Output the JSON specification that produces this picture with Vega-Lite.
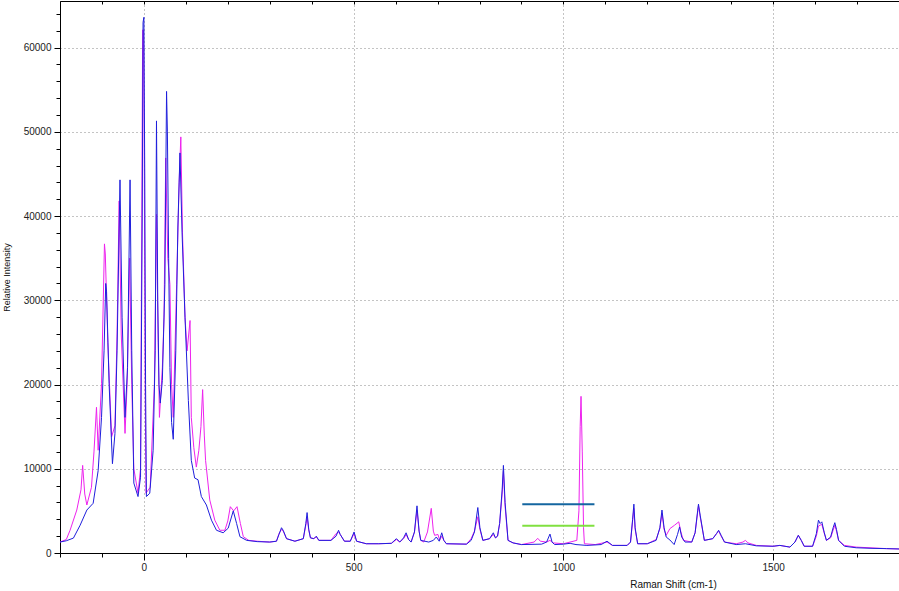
{
  "$schema": "https://vega.github.io/schema/vega-lite/v6.json",
  "width": 839,
  "height": 552,
  "autosize": "none",
  "padding": {"left": 60, "top": 1, "right": 0, "bottom": 38},
  "config": {
    "font": "Liberation Sans",
    "view": {"stroke": null},
    "axis": {"labelFont": "Liberation Sans", "titleFont": "Liberation Sans"}
  },
  "datasets": {
    "spec": [
      {"s":"m","x":-200,"y":1300},{"s":"m","x":-185,"y":1600},{"s":"m","x":-176,"y":2700},{"s":"m","x":-160,"y":5100},{"s":"m","x":-150,"y":7500},{"s":"m","x":-146,"y":10400},{"s":"m","x":-141,"y":7000},{"s":"m","x":-136,"y":5700},{"s":"m","x":-125,"y":7800},{"s":"m","x":-119,"y":12000},{"s":"m","x":-113,"y":17300},{"s":"m","x":-109,"y":12200},{"s":"m","x":-101,"y":20100},{"s":"m","x":-94,"y":36700},{"s":"m","x":-92,"y":35500},{"s":"m","x":-86,"y":25000},{"s":"m","x":-77,"y":13800},{"s":"m","x":-69,"y":15100},{"s":"m","x":-64,"y":26000},{"s":"m","x":-59,"y":41800},{"s":"m","x":-54,"y":26000},{"s":"m","x":-45,"y":14200},{"s":"m","x":-40,"y":20000},{"s":"m","x":-34,"y":35000},{"s":"m","x":-29,"y":20000},{"s":"m","x":-24,"y":10000},{"s":"m","x":-14,"y":7100},{"s":"m","x":-8,"y":10000},{"s":"m","x":-5,"y":40000},{"s":"m","x":-3,"y":62100},{"s":"m","x":-1,"y":62100},{"s":"m","x":1,"y":45000},{"s":"m","x":3,"y":20000},{"s":"m","x":5,"y":7100},{"s":"m","x":15,"y":7800},{"s":"m","x":25,"y":20000},{"s":"m","x":30,"y":40200},{"s":"m","x":34,"y":25000},{"s":"m","x":37,"y":16100},{"s":"m","x":44,"y":22000},{"s":"m","x":48,"y":28000},{"s":"m","x":52,"y":46900},{"s":"m","x":57,"y":35000},{"s":"m","x":62,"y":31900},{"s":"m","x":66,"y":20000},{"s":"m","x":70,"y":16100},{"s":"m","x":78,"y":31900},{"s":"m","x":84,"y":44000},{"s":"m","x":88,"y":49400},{"s":"m","x":92,"y":38000},{"s":"m","x":98,"y":28000},{"s":"m","x":103,"y":24000},{"s":"m","x":110,"y":27600},{"s":"m","x":113,"y":16100},{"s":"m","x":119,"y":12500},{"s":"m","x":125,"y":10200},{"s":"m","x":131,"y":12200},{"s":"m","x":136,"y":15000},{"s":"m","x":140,"y":19400},{"s":"m","x":144,"y":14000},{"s":"m","x":147,"y":11000},{"s":"m","x":157,"y":6300},{"s":"m","x":169,"y":3900},{"s":"m","x":181,"y":2700},{"s":"m","x":193,"y":2700},{"s":"m","x":200,"y":3800},{"s":"m","x":206,"y":5500},{"s":"m","x":214,"y":5000},{"s":"m","x":222,"y":5500},{"s":"m","x":230,"y":3500},{"s":"m","x":237,"y":1930},{"s":"m","x":250,"y":1500},{"s":"m","x":270,"y":1400},{"s":"m","x":300,"y":1300},{"s":"m","x":316,"y":1400},{"s":"m","x":322,"y":2300},{"s":"m","x":328,"y":2800},{"s":"m","x":332,"y":2600},{"s":"m","x":340,"y":1700},{"s":"m","x":360,"y":1400},{"s":"m","x":380,"y":1700},{"s":"m","x":386,"y":3300},{"s":"m","x":389,"y":4300},{"s":"m","x":393,"y":2700},{"s":"m","x":397,"y":1800},{"s":"m","x":405,"y":1700},{"s":"m","x":411,"y":1900},{"s":"m","x":417,"y":1500},{"s":"m","x":446,"y":1500},{"s":"m","x":458,"y":2300},{"s":"m","x":464,"y":2500},{"s":"m","x":468,"y":2200},{"s":"m","x":478,"y":1400},{"s":"m","x":492,"y":1400},{"s":"m","x":501,"y":2300},{"s":"m","x":507,"y":1400},{"s":"m","x":530,"y":1100},{"s":"m","x":560,"y":1100},{"s":"m","x":590,"y":1150},{"s":"m","x":602,"y":1600},{"s":"m","x":610,"y":1300},{"s":"m","x":619,"y":1700},{"s":"m","x":625,"y":2200},{"s":"m","x":631,"y":1600},{"s":"m","x":637,"y":1300},{"s":"m","x":645,"y":2500},{"s":"m","x":651,"y":5100},{"s":"m","x":656,"y":2600},{"s":"m","x":660,"y":1500},{"s":"m","x":667,"y":1300},{"s":"m","x":676,"y":2500},{"s":"m","x":685,"y":5300},{"s":"m","x":690,"y":2600},{"s":"m","x":693,"y":2100},{"s":"m","x":701,"y":2200},{"s":"m","x":705,"y":1500},{"s":"m","x":710,"y":2000},{"s":"m","x":715,"y":1500},{"s":"m","x":721,"y":1100},{"s":"m","x":769,"y":1050},{"s":"m","x":780,"y":1700},{"s":"m","x":788,"y":2600},{"s":"m","x":796,"y":4300},{"s":"m","x":801,"y":2800},{"s":"m","x":808,"y":1500},{"s":"m","x":824,"y":1700},{"s":"m","x":833,"y":2200},{"s":"m","x":838,"y":1800},{"s":"m","x":843,"y":2000},{"s":"m","x":848,"y":3500},{"s":"m","x":854,"y":7000},{"s":"m","x":857,"y":9700},{"s":"m","x":861,"y":5500},{"s":"m","x":868,"y":1500},{"s":"m","x":880,"y":1200},{"s":"m","x":900,"y":1000},{"s":"m","x":930,"y":1300},{"s":"m","x":939,"y":1740},{"s":"m","x":945,"y":1400},{"s":"m","x":960,"y":1300},{"s":"m","x":968,"y":1500},{"s":"m","x":975,"y":1200},{"s":"m","x":1000,"y":1100},{"s":"m","x":1032,"y":1500},{"s":"m","x":1037,"y":5000},{"s":"m","x":1040,"y":15000},{"s":"m","x":1042,"y":18600},{"s":"m","x":1045,"y":12000},{"s":"m","x":1048,"y":3000},{"s":"m","x":1050,"y":1100},{"s":"m","x":1076,"y":1000},{"s":"m","x":1104,"y":1300},{"s":"m","x":1117,"y":900},{"s":"m","x":1152,"y":900},{"s":"m","x":1160,"y":1300},{"s":"m","x":1165,"y":3800},{"s":"m","x":1168,"y":5300},{"s":"m","x":1171,"y":2800},{"s":"m","x":1177,"y":1100},{"s":"m","x":1200,"y":1100},{"s":"m","x":1221,"y":1600},{"s":"m","x":1230,"y":2900},{"s":"m","x":1235,"y":4700},{"s":"m","x":1240,"y":2800},{"s":"m","x":1245,"y":2100},{"s":"m","x":1254,"y":2900},{"s":"m","x":1265,"y":3300},{"s":"m","x":1275,"y":3700},{"s":"m","x":1280,"y":2500},{"s":"m","x":1286,"y":1500},{"s":"m","x":1306,"y":1300},{"s":"m","x":1314,"y":2400},{"s":"m","x":1320,"y":4800},{"s":"m","x":1322,"y":5600},{"s":"m","x":1326,"y":4300},{"s":"m","x":1336,"y":1500},{"s":"m","x":1356,"y":1700},{"s":"m","x":1365,"y":2300},{"s":"m","x":1370,"y":2600},{"s":"m","x":1376,"y":2000},{"s":"m","x":1384,"y":1300},{"s":"m","x":1412,"y":1100},{"s":"m","x":1428,"y":1300},{"s":"m","x":1434,"y":1500},{"s":"m","x":1440,"y":1200},{"s":"m","x":1460,"y":900},{"s":"m","x":1500,"y":800},{"s":"m","x":1516,"y":900},{"s":"m","x":1540,"y":700},{"s":"m","x":1552,"y":1300},{"s":"m","x":1560,"y":2100},{"s":"m","x":1567,"y":1500},{"s":"m","x":1574,"y":800},{"s":"m","x":1594,"y":800},{"s":"m","x":1603,"y":2000},{"s":"m","x":1608,"y":3200},{"s":"m","x":1612,"y":3300},{"s":"m","x":1616,"y":3400},{"s":"m","x":1622,"y":2300},{"s":"m","x":1627,"y":1500},{"s":"m","x":1637,"y":1800},{"s":"m","x":1643,"y":2700},{"s":"m","x":1647,"y":3300},{"s":"m","x":1651,"y":2600},{"s":"m","x":1656,"y":1500},{"s":"m","x":1670,"y":900},{"s":"m","x":1698,"y":700},{"s":"m","x":1738,"y":600},{"s":"m","x":1770,"y":520},{"s":"m","x":1800,"y":480},
      {"s":"b","x":-200,"y":1300},{"s":"b","x":-185,"y":1450},{"s":"b","x":-168,"y":1770},{"s":"b","x":-152,"y":3300},{"s":"b","x":-136,"y":5100},{"s":"b","x":-121,"y":5900},{"s":"b","x":-109,"y":9800},{"s":"b","x":-101,"y":16100},{"s":"b","x":-95,"y":24000},{"s":"b","x":-91,"y":32000},{"s":"b","x":-89,"y":31000},{"s":"b","x":-83,"y":20100},{"s":"b","x":-75,"y":10600},{"s":"b","x":-69,"y":14200},{"s":"b","x":-64,"y":24000},{"s":"b","x":-57,"y":44300},{"s":"b","x":-52,"y":28000},{"s":"b","x":-45,"y":16100},{"s":"b","x":-39,"y":22000},{"s":"b","x":-33,"y":44300},{"s":"b","x":-29,"y":24000},{"s":"b","x":-24,"y":8300},{"s":"b","x":-14,"y":6700},{"s":"b","x":-8,"y":9000},{"s":"b","x":-4,"y":40000},{"s":"b","x":-2,"y":63000},{"s":"b","x":0,"y":63600},{"s":"b","x":2,"y":45000},{"s":"b","x":4,"y":20000},{"s":"b","x":6,"y":6700},{"s":"b","x":14,"y":7100},{"s":"b","x":22,"y":12200},{"s":"b","x":27,"y":24000},{"s":"b","x":30,"y":51300},{"s":"b","x":33,"y":30000},{"s":"b","x":36,"y":20000},{"s":"b","x":39,"y":17800},{"s":"b","x":44,"y":20500},{"s":"b","x":50,"y":31900},{"s":"b","x":54,"y":54800},{"s":"b","x":56,"y":50000},{"s":"b","x":59,"y":35000},{"s":"b","x":62,"y":22000},{"s":"b","x":66,"y":15500},{"s":"b","x":70,"y":13500},{"s":"b","x":76,"y":24000},{"s":"b","x":81,"y":38700},{"s":"b","x":86,"y":47500},{"s":"b","x":91,"y":38000},{"s":"b","x":98,"y":28000},{"s":"b","x":106,"y":18100},{"s":"b","x":113,"y":11000},{"s":"b","x":121,"y":8900},{"s":"b","x":129,"y":8700},{"s":"b","x":137,"y":6700},{"s":"b","x":149,"y":5700},{"s":"b","x":161,"y":3900},{"s":"b","x":173,"y":2700},{"s":"b","x":189,"y":2400},{"s":"b","x":201,"y":2950},{"s":"b","x":213,"y":5000},{"s":"b","x":221,"y":3500},{"s":"b","x":229,"y":1930},{"s":"b","x":245,"y":1500},{"s":"b","x":270,"y":1350},{"s":"b","x":300,"y":1300},{"s":"b","x":316,"y":1400},{"s":"b","x":322,"y":2200},{"s":"b","x":328,"y":3000},{"s":"b","x":332,"y":2700},{"s":"b","x":340,"y":1700},{"s":"b","x":360,"y":1400},{"s":"b","x":380,"y":1700},{"s":"b","x":386,"y":3500},{"s":"b","x":389,"y":4800},{"s":"b","x":393,"y":2800},{"s":"b","x":397,"y":1800},{"s":"b","x":405,"y":1700},{"s":"b","x":411,"y":2000},{"s":"b","x":417,"y":1500},{"s":"b","x":446,"y":1500},{"s":"b","x":458,"y":2000},{"s":"b","x":464,"y":2700},{"s":"b","x":468,"y":2200},{"s":"b","x":478,"y":1400},{"s":"b","x":492,"y":1400},{"s":"b","x":501,"y":2500},{"s":"b","x":507,"y":1400},{"s":"b","x":530,"y":1100},{"s":"b","x":560,"y":1100},{"s":"b","x":590,"y":1150},{"s":"b","x":602,"y":1700},{"s":"b","x":610,"y":1300},{"s":"b","x":619,"y":1800},{"s":"b","x":625,"y":2400},{"s":"b","x":631,"y":1600},{"s":"b","x":637,"y":1300},{"s":"b","x":645,"y":2500},{"s":"b","x":651,"y":5600},{"s":"b","x":656,"y":2600},{"s":"b","x":660,"y":1500},{"s":"b","x":679,"y":1300},{"s":"b","x":690,"y":1500},{"s":"b","x":697,"y":1900},{"s":"b","x":704,"y":1400},{"s":"b","x":710,"y":2400},{"s":"b","x":715,"y":1500},{"s":"b","x":721,"y":1100},{"s":"b","x":769,"y":1050},{"s":"b","x":780,"y":1500},{"s":"b","x":788,"y":2500},{"s":"b","x":796,"y":5400},{"s":"b","x":801,"y":3000},{"s":"b","x":808,"y":1500},{"s":"b","x":824,"y":1700},{"s":"b","x":833,"y":2400},{"s":"b","x":838,"y":1800},{"s":"b","x":843,"y":2000},{"s":"b","x":848,"y":3500},{"s":"b","x":854,"y":7500},{"s":"b","x":857,"y":10400},{"s":"b","x":861,"y":6000},{"s":"b","x":868,"y":1500},{"s":"b","x":880,"y":1200},{"s":"b","x":900,"y":1000},{"s":"b","x":948,"y":1050},{"s":"b","x":960,"y":1300},{"s":"b","x":968,"y":2250},{"s":"b","x":973,"y":1300},{"s":"b","x":979,"y":1000},{"s":"b","x":1000,"y":1050},{"s":"b","x":1016,"y":1150},{"s":"b","x":1030,"y":1000},{"s":"b","x":1056,"y":900},{"s":"b","x":1090,"y":1000},{"s":"b","x":1104,"y":1400},{"s":"b","x":1117,"y":900},{"s":"b","x":1152,"y":900},{"s":"b","x":1160,"y":1300},{"s":"b","x":1165,"y":4000},{"s":"b","x":1168,"y":5800},{"s":"b","x":1171,"y":3000},{"s":"b","x":1177,"y":1100},{"s":"b","x":1200,"y":1100},{"s":"b","x":1221,"y":1500},{"s":"b","x":1230,"y":3000},{"s":"b","x":1235,"y":5100},{"s":"b","x":1240,"y":3000},{"s":"b","x":1245,"y":1900},{"s":"b","x":1254,"y":1540},{"s":"b","x":1264,"y":1000},{"s":"b","x":1272,"y":2200},{"s":"b","x":1277,"y":3100},{"s":"b","x":1282,"y":1900},{"s":"b","x":1290,"y":1300},{"s":"b","x":1306,"y":1300},{"s":"b","x":1314,"y":2400},{"s":"b","x":1320,"y":5000},{"s":"b","x":1322,"y":5800},{"s":"b","x":1326,"y":4500},{"s":"b","x":1336,"y":1500},{"s":"b","x":1356,"y":1700},{"s":"b","x":1365,"y":2300},{"s":"b","x":1370,"y":2700},{"s":"b","x":1376,"y":2100},{"s":"b","x":1384,"y":1300},{"s":"b","x":1412,"y":1000},{"s":"b","x":1434,"y":1100},{"s":"b","x":1460,"y":850},{"s":"b","x":1500,"y":800},{"s":"b","x":1516,"y":900},{"s":"b","x":1540,"y":700},{"s":"b","x":1552,"y":1300},{"s":"b","x":1560,"y":2100},{"s":"b","x":1567,"y":1500},{"s":"b","x":1574,"y":800},{"s":"b","x":1594,"y":800},{"s":"b","x":1603,"y":2300},{"s":"b","x":1608,"y":3900},{"s":"b","x":1612,"y":3500},{"s":"b","x":1616,"y":3700},{"s":"b","x":1622,"y":2400},{"s":"b","x":1627,"y":1500},{"s":"b","x":1637,"y":1900},{"s":"b","x":1643,"y":3000},{"s":"b","x":1647,"y":3600},{"s":"b","x":1651,"y":2800},{"s":"b","x":1656,"y":1500},{"s":"b","x":1670,"y":800},{"s":"b","x":1698,"y":620},{"s":"b","x":1738,"y":550},{"s":"b","x":1770,"y":520},{"s":"b","x":1800,"y":480},
      {"s":"r1","x":902,"y":5800},{"s":"r1","x":1074,"y":5800},
      {"s":"r2","x":902,"y":3250},{"s":"r2","x":1074,"y":3250}
    ]
  },
  "data": {"name": "spec"},
  "resolve": {"axis": {"x": "independent"}},
  "encoding": {
    "y": {
      "field": "y", "type": "quantitative",
      "scale": {"domain": [0, 65535], "nice": false},
      "axis": {
        "title": "Relative Intensity",
        "titleFontSize": 9, "titleFontWeight": "normal", "titleColor": "#111",
        "titlePadding": 12,
        "values": [0,2000,4000,6000,8000,10000,12000,14000,16000,18000,20000,22000,24000,26000,28000,30000,32000,34000,36000,38000,40000,42000,44000,46000,48000,50000,52000,54000,56000,58000,60000,62000,64000],
        "labelExpr": "datum.value % 10000 === 0 ? '' + datum.value : ''",
        "labelOverlap": false,
        "labelFontSize": 10, "labelColor": "#222", "labelPadding": 3,
        "tickSize": {"condition": {"test": "datum.value % 10000 === 0", "value": 6}, "value": 4},
        "tickColor": "#000", "domainColor": "#000",
        "grid": true,
        "gridOpacity": {"condition": {"test": "datum.value % 10000 === 0 && datum.value > 0", "value": 1}, "value": 0},
        "gridColor": "#888", "gridDash": [1, 3], "gridWidth": 1
      }
    }
  },
  "layer": [
    {
      "transform": [{"filter": "datum.s === 'm'"}],
      "mark": {"type": "line", "color": "#ee22ee", "strokeWidth": 1, "clip": true},
      "encoding": {
        "x": {
          "field": "x", "type": "quantitative",
          "scale": {"domain": [-200, 1800], "nice": false, "zero": false},
          "axis": {
            "orient": "bottom",
            "title": "Raman Shift (cm-1)",
            "titleFontSize": 10, "titleFontWeight": "normal", "titleColor": "#111",
            "titleX": 613, "titleY": 31, "titleAlign": "center", "titleBaseline": "middle",
            "values": [-200,-100,0,100,200,300,400,500,600,700,800,900,1000,1100,1200,1300,1400,1500,1600,1700,1800],
            "labelExpr": "datum.value % 500 === 0 ? '' + datum.value : ''",
            "labelOverlap": false,
            "labelFontSize": 10, "labelColor": "#222", "labelPadding": 2,
            "tickSize": {"condition": {"test": "datum.value % 500 === 0", "value": 7}, "value": 4},
            "tickColor": "#000", "domainColor": "#000",
            "grid": true,
            "gridOpacity": {"condition": {"test": "datum.value % 500 === 0 && datum.value > -200", "value": 1}, "value": 0},
            "gridColor": "#888", "gridDash": [1, 3], "gridWidth": 1
          }
        }
      }
    },
    {
      "transform": [{"filter": "datum.s === 'b'"}],
      "mark": {"type": "line", "color": "#1f1fdc", "strokeWidth": 1, "clip": true},
      "encoding": {
        "x": {
          "field": "x", "type": "quantitative",
          "axis": {
            "orient": "top", "title": null, "labels": false, "grid": false,
            "values": [-200,-100,0,100,200,300,400,500,600,700,800,900,1000,1100,1200,1300,1400,1500,1600,1700,1800],
            "tickSize": -3, "tickColor": "#000", "domainColor": "#000"
          }
        }
      }
    },
    {
      "transform": [{"filter": "datum.s === 'r1' || datum.s === 'r2'"}],
      "mark": {"type": "line", "strokeWidth": 2},
      "encoding": {
        "x": {"field": "x", "type": "quantitative", "axis": null},
        "color": {"field": "s", "type": "nominal", "scale": {"domain": ["r1", "r2"], "range": ["#1466a0", "#80e040"]}, "legend": null}
      }
    }
  ]
}
